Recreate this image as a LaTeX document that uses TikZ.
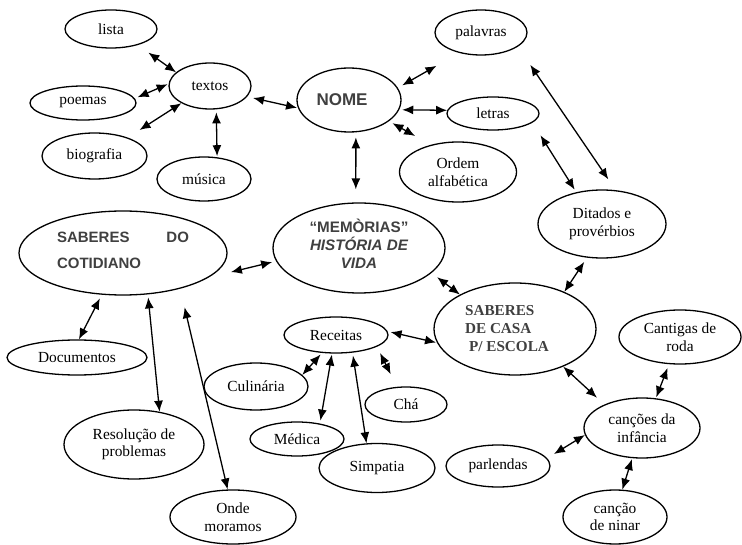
\documentclass[tikz,border=0pt]{standalone}
\usepackage{fontspec}
\setmainfont{Liberation Serif}
\newfontfamily\headsans{Liberation Sans}
\usetikzlibrary{shapes.geometric,arrows.meta}
\definecolor{inkgray}{RGB}{64,64,64}

\tikzset{
  bub/.style={ellipse, draw, line width=1.3pt, inner sep=0pt, align=center,
    font=\fontsize{15.4}{17.5}\selectfont},
  sz/.style n args={2}{minimum width=#1pt, minimum height=#2pt},
  link/.style={{Latex[length=11pt,width=9pt]}-{Latex[length=11pt,width=9pt]},
    line width=1.3pt},
}

\begin{document}
\begin{tikzpicture}[x=1pt,y=-1pt]
\useasboundingbox (0,0) rectangle (742,545);

% ---- nodes ----
\node[bub, sz={92}{38}]  (lista)     at (111,29)    {lista};
\node[bub, sz={82}{46}]  (textos)    at (210,86)    {textos};
\node[bub, sz={106}{34}] (poemas)    at (83,103)    {poemas};
\node[bub, sz={105}{46}] (bio)       at (94.5,156)  {biografia};
\node[bub, sz={94}{44}]  (musica)    at (204,179)   {música};
\node[bub, sz={104}{64}, text=inkgray,
      font=\headsans\bfseries\fontsize{17}{20}\selectfont] (nome) at (349,100)
      {NOME\hspace*{14pt}};
\node[bub, sz={92}{45}]  (palavras)  at (481,32.5)  {palavras};
\node[bub, sz={92}{33}]  (letras)    at (493,113.5) {letras};
\node[bub, sz={117}{60}] (ordem)     at (458,172)   {Ordem\\alfabética};
\node[bub, sz={128}{68}] (ditados)   at (602,224)   {Ditados e\\provérbios};
\node[bub, sz={208}{84}, text=inkgray, align=left, text width=132pt, text depth=31pt,
      font=\headsans\bfseries\fontsize{15}{26}\selectfont] (cotid) at (123,253)
      {SABERES\hfill DO\\COTIDIANO};
\node[bub, sz={172}{90}, text=inkgray, text depth=8pt,
      font=\headsans\bfseries\fontsize{15.2}{17.8}\selectfont] (memo) at (359,248)
      {“MEMÒRIAS”\\{\itshape HISTÓRIA DE}\\{\itshape VIDA}};
\node[bub, sz={162}{92}, text=inkgray, align=left,
      font=\bfseries\fontsize{15.2}{18}\selectfont] (casa) at (515,329)
      {SABERES\\DE CASA\\\hspace*{4pt}P/ ESCOLA\hspace*{16pt}};
\node[bub, sz={122}{54}] (cantigas)  at (680,337)   {Cantigas de\\roda};
\node[bub, sz={116}{60}] (cancoes)   at (642,428)   {canções da\\infância};
\node[bub, sz={104}{42}] (parlendas) at (498,466)   {parlendas};
\node[bub, sz={104}{54}] (ninar)     at (615,517)   {canção\\de ninar};
\node[bub, sz={104}{36}] (receitas)  at (336,335)   {Receitas};
\node[bub, sz={104}{47}] (culinaria) at (256,386.5) {Culinária};
\node[bub, sz={82}{35}]  (cha)       at (406,404.5) {Chá};
\node[bub, sz={94}{34}]  (medica)    at (297,439)   {Médica};
\node[bub, sz={116}{49}] (simpatia)  at (377,468)   {Simpatia};
\node[bub, sz={140}{35}] (docs)      at (77,357.5)  {Documentos};
\node[bub, sz={140}{69}] (resol)     at (134,444.5) {Resolução de\\problemas};
\node[bub, sz={126}{54}] (onde)      at (233,517)   {Onde\\moramos};

% ---- connectors ----
\draw[link, shorten <=13pt] (lista.-31) -- (textos.158);
\draw[link, shorten <=3pt, shorten >=1pt] (poemas.5) -- (textos.177);
\draw[link, shorten <=14pt] (bio.29) -- (textos.211);
\draw[link, shorten <=3pt, shorten >=1pt] (textos.-75) -- (musica.59);
\draw[link, shorten <=6pt, shorten >=1pt] (textos.-16) -- (nome.189);
\draw[link, shorten <=5pt, shorten >=26pt] (nome.14) -- (palavras.223);
\draw[link, shorten <=3pt] (nome.-11) -- (letras.176);
\draw[link, shorten <=4pt, shorten >=18pt] (nome.-28) -- (ordem.135);
\draw[link, shorten <=5pt, shorten >=13pt] (nome.-78) -- (memo.94);
\draw[link, shorten <=22pt, shorten >=13pt] (palavras.-21) -- (ditados.68);
\draw[link, shorten <=15pt, shorten >=3pt] (letras.-13) -- (ditados.129);
\draw[link, shorten <=5pt] (ditados.246) -- (casa.37);
\draw[link, shorten <=7pt] (memo.-19) -- (casa.148);
\draw[link, shorten <=23pt, shorten >=4pt] (cotid.-16) -- (memo.189);
\draw[link, shorten >=10pt] (casa.-38) -- (cancoes.148);
\draw[link, shorten <=1pt, shorten >=4pt] (cancoes.65) -- (cantigas.248);
\draw[link, shorten >=8pt] (cancoes.187) -- (parlendas.9);
\draw[link, shorten <=1pt] (cancoes.252) -- (ninar.75);
\draw[link, shorten <=3pt, shorten >=1pt] (receitas.4) -- (casa.190);
\draw[link, shorten <=2pt] (receitas.232) -- (culinaria.14);
\draw[link, shorten <=1pt, shorten >=3pt] (receitas.258) -- (medica.34);
\draw[link, shorten <=3pt] (receitas.-47) -- (simpatia.113);
\draw[link, shorten <=7pt, shorten >=14pt] (receitas.-16) -- (cha.117);
\draw[link, shorten <=4pt] (cotid.243) -- (docs.84);
\draw[link, shorten <=3pt] (cotid.-59) -- (resol.52);
\draw[link, shorten <=19pt] (cotid.-32) -- (onde.101);
\end{tikzpicture}
\end{document}
